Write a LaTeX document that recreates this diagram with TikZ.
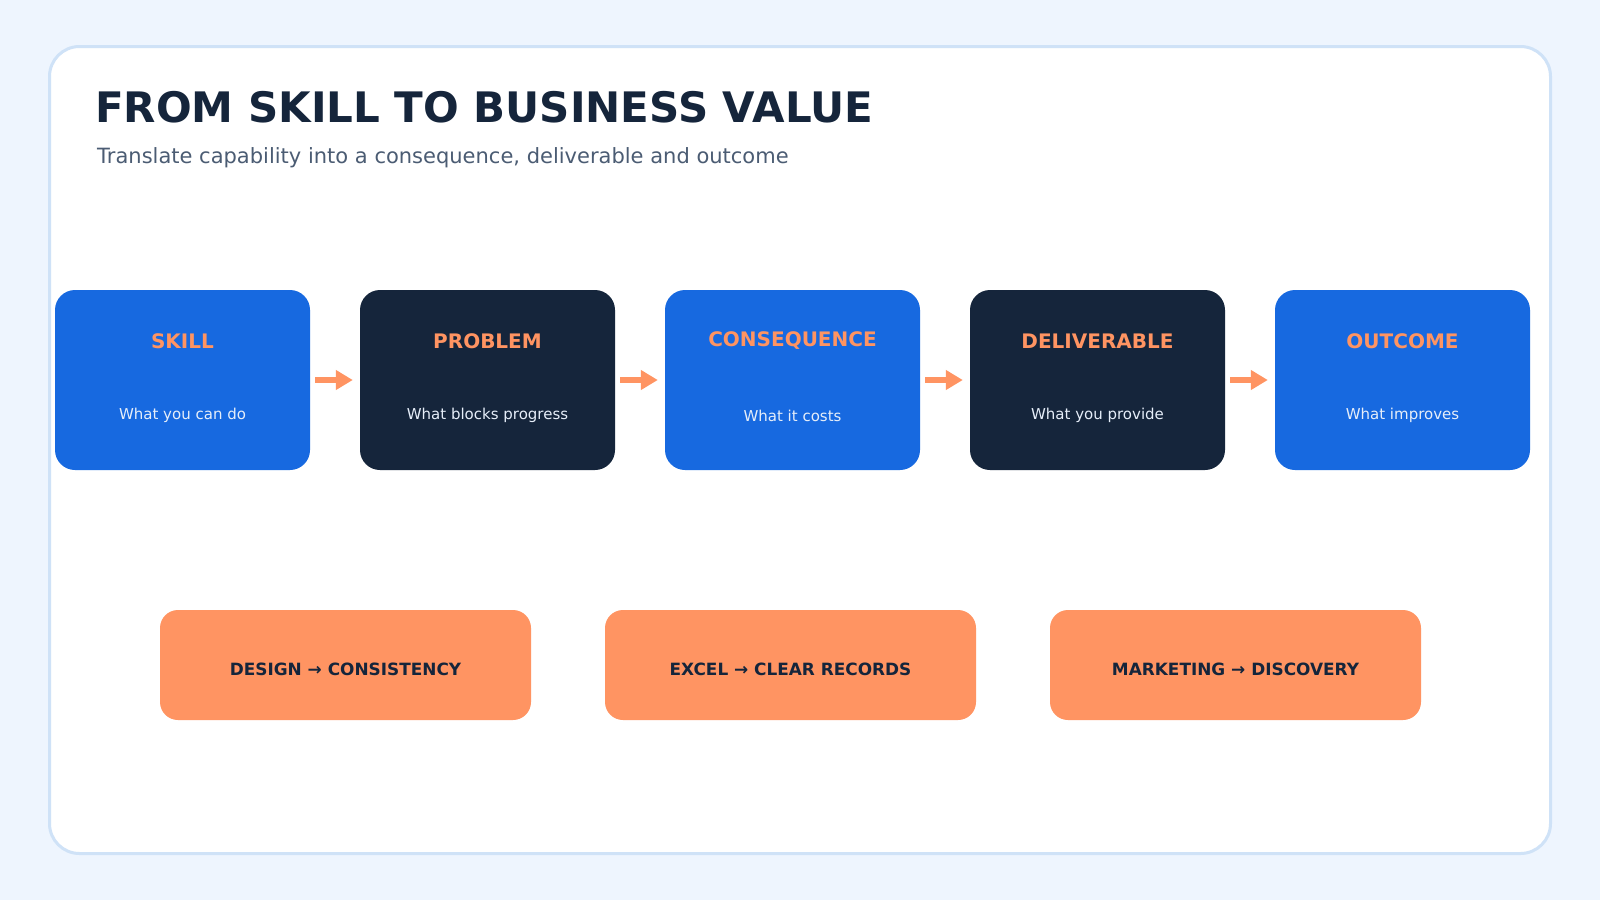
\documentclass[tikz,border=0pt]{standalone}
\usepackage{fontspec}
\setmainfont{DejaVu Sans}
\usetikzlibrary{arrows.meta}
\definecolor{bgc}{HTML}{EEF5FE}
\definecolor{cardline}{HTML}{CFE2F7}
\definecolor{bluebox}{HTML}{1769E0}
\definecolor{navy}{HTML}{15253B}
\definecolor{orangec}{HTML}{FF9462}
\definecolor{subtxt}{HTML}{E6EEF9}
\definecolor{slate}{HTML}{4B5C73}
\tikzset{
  stagebox/.style={rectangle, rounded corners=20pt, minimum width=255pt, minimum height=180pt, inner sep=0pt, draw=none},
  bluestage/.style={stagebox, fill=bluebox},
  navystage/.style={stagebox, fill=navy},
  stagetitle/.style={anchor=base, text=orangec, font=\fontsize{20}{24}\selectfont\bfseries, inner sep=0pt},
  stagesub/.style={anchor=base, text=subtxt, font=\fontsize{15}{18}\selectfont, inner sep=0pt},
  examplebox/.style={rectangle, rounded corners=18pt, minimum width=371pt, minimum height=110pt, inner sep=0pt, fill=orangec},
  exampletext/.style={anchor=base, text=navy, font=\fontsize{16.9}{20}\selectfont\bfseries, inner sep=0pt},
  flowarrow/.style={draw=orangec, line width=6.5pt, shorten <=5pt, shorten >=7pt, -{Triangle[length=17pt,width=19pt]}}
}
\begin{document}
\begin{tikzpicture}[x=1pt,y=-1pt]
\fill[bgc] (0,0) rectangle (1600,900);
\useasboundingbox (0,0) rectangle (1600,900);
\draw[cardline, line width=3pt, fill=white, rounded corners=30pt] (49.5,46.5) rectangle (1550.5,853.5);

\node[anchor=base west, inner sep=0pt, text=navy, font=\fontsize{42}{48}\selectfont\bfseries] (title) at (95,122) {FROM SKILL TO BUSINESS VALUE};
\node[anchor=base west, inner sep=0pt, text=slate, font=\fontsize{21}{25}\selectfont] (subtitle) at (97,163) {Translate capability into a consequence, deliverable and outcome};

\node[bluestage] (skill) at (182.5,380) {};
\node[navystage] (problem) at (487.5,380) {};
\node[bluestage] (consequence) at (792.5,380) {};
\node[navystage] (deliverable) at (1097.5,380) {};
\node[bluestage] (outcome) at (1402.5,380) {};

\node[stagetitle] (skillT) at (182.5,348) {SKILL};
\node[stagesub] (skillS) at (182.5,419) {What you can do};
\node[stagetitle] (problemT) at (487.5,348) {PROBLEM};
\node[stagesub] (problemS) at (487.5,419) {What blocks progress};
\node[stagetitle] (consequenceT) at (792.5,346) {CONSEQUENCE};
\node[stagesub] (consequenceS) at (792.5,421) {What it costs};
\node[stagetitle] (deliverableT) at (1097.5,348) {DELIVERABLE};
\node[stagesub] (deliverableS) at (1097.5,419) {What you provide};
\node[stagetitle] (outcomeT) at (1402.5,348) {OUTCOME};
\node[stagesub] (outcomeS) at (1402.5,419) {What improves};

\draw[flowarrow] (skill.east) -- (problem.west);
\draw[flowarrow] (problem.east) -- (consequence.west);
\draw[flowarrow] (consequence.east) -- (deliverable.west);
\draw[flowarrow] (deliverable.east) -- (outcome.west);

\node[examplebox] (ex1) at (345.5,665) {};
\node[examplebox] (ex2) at (790.5,665) {};
\node[examplebox] (ex3) at (1235.5,665) {};
\node[exampletext] (ex1T) at (345.5,675.5) {DESIGN → CONSISTENCY};
\node[exampletext] (ex2T) at (790.5,675.5) {EXCEL → CLEAR RECORDS};
\node[exampletext] (ex3T) at (1235.5,675.5) {MARKETING → DISCOVERY};
\end{tikzpicture}
\end{document}
